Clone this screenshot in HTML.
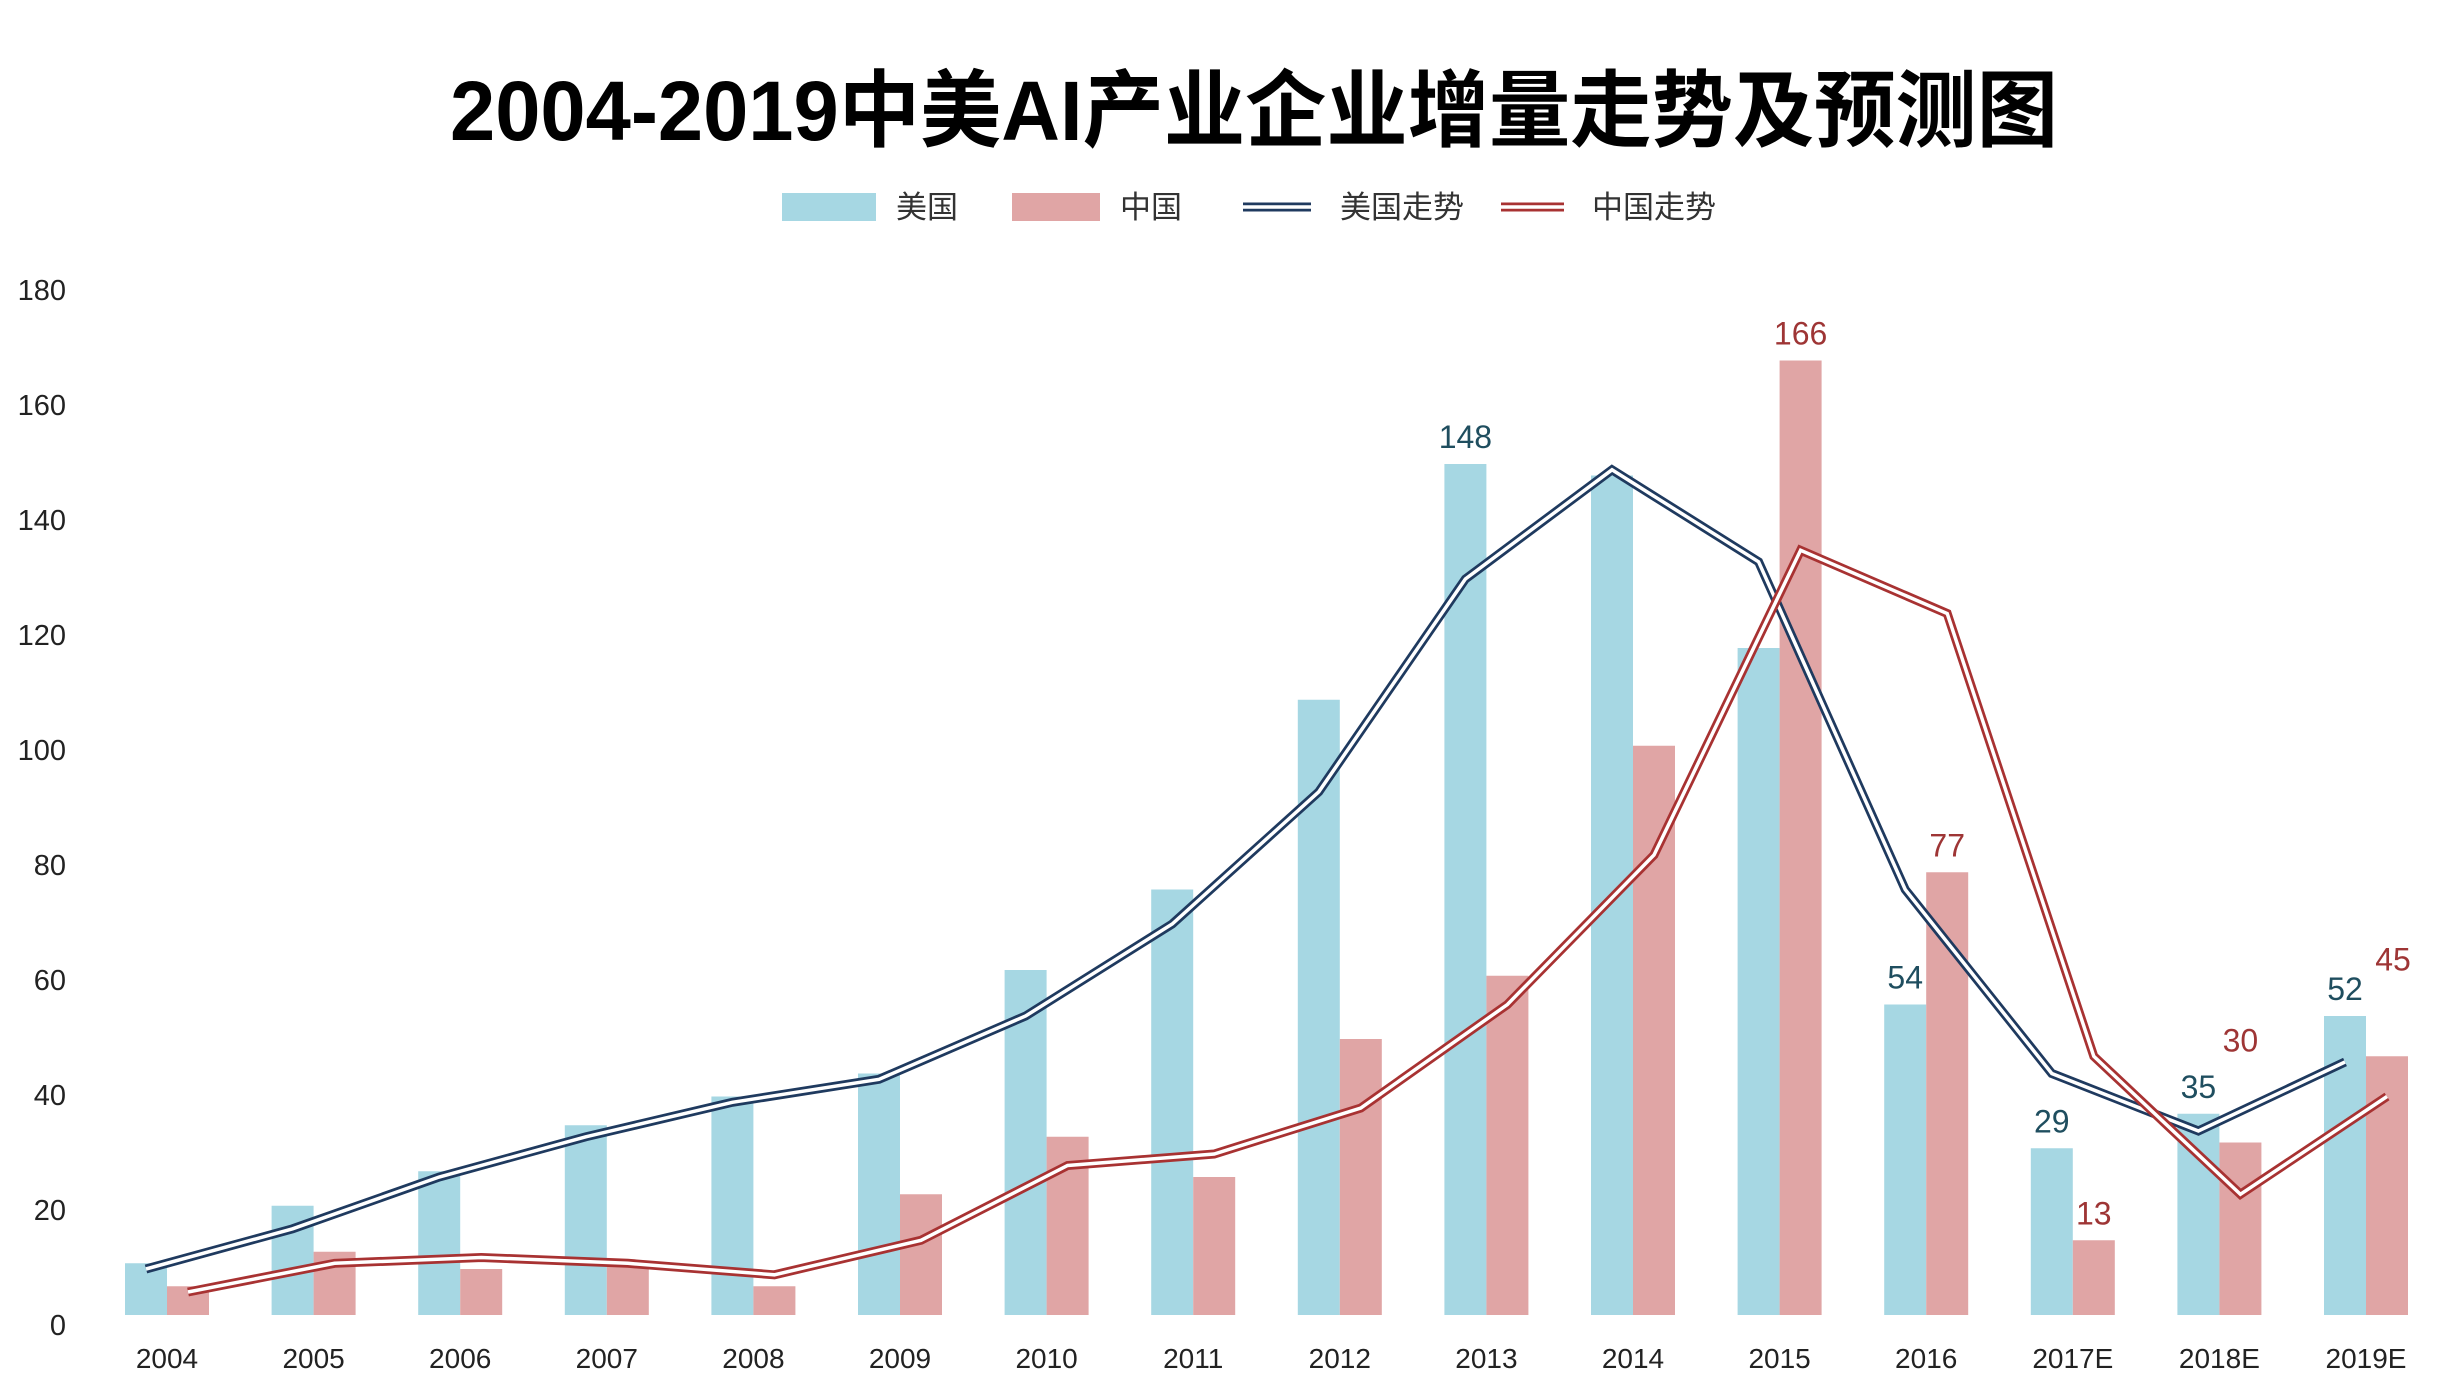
<!DOCTYPE html>
<html><head><meta charset="utf-8">
<style>
html,body{margin:0;padding:0;background:#fff;}
svg{display:block;}
text{font-family:"Liberation Sans","Noto Sans CJK SC",sans-serif;}
</style></head>
<body>
<svg id="chart" width="2440" height="1400" viewBox="0 0 2440 1400" xmlns="http://www.w3.org/2000/svg">
<text x="1254" y="140" text-anchor="middle" font-size="84" font-weight="bold" fill="#000" textLength="1608" lengthAdjust="spacingAndGlyphs">2004-2019中美AI产业企业增量走势及预测图</text>
<g font-size="31" fill="#333">
<rect x="782" y="193" width="94" height="28" fill="#a6d7e3"/>
<text x="896" y="218">美国</text>
<rect x="1012" y="193" width="88" height="28" fill="#e0a5a5"/>
<text x="1120" y="218">中国</text>
<line x1="1243" y1="207" x2="1311" y2="207" stroke="#1f3a5f" stroke-width="9"/>
<line x1="1243" y1="207" x2="1311" y2="207" stroke="#fff" stroke-width="3.5"/>
<text x="1340" y="218">美国走势</text>
<line x1="1501" y1="207" x2="1564" y2="207" stroke="#a83232" stroke-width="9"/>
<line x1="1501" y1="207" x2="1564" y2="207" stroke="#fff" stroke-width="3.5"/>
<text x="1592" y="218">中国走势</text>
</g>
<g id="plot"></g>
</svg>
<script>
const categories = ["2004","2005","2006","2007","2008","2009","2010","2011","2012","2013","2014","2015","2016","2017E","2018E","2019E"];
const usValues = [9,19,25,33,38,42,60,74,107,148,146,116,54,29,35,52];
const cnValues = [5,11,8,9,5,21,31,24,48,59,99,166,77,13,30,45];
const usTrend = [8,15,24,31,37,41,52,68,91,128,147,131,74,42,32,44];
const cnTrend = [4,9,10,9,7,13,26,28,36,54,80,133,122,45,21,38];
const yTicks = [0,20,40,60,80,100,120,140,160,180];
const usLabelIdx = [9,12,13,14,15];
const cnLabelIdx = [11,12,13,14,15];

const NS = "http://www.w3.org/2000/svg";
const plot = document.getElementById('plot');
const x0 = 167, step = 146.6, bw = 42;
const yBase = 1315, perUnit = 5.75;
function xC(i){ return x0 + i*step; }
function yV(v){ return yBase - v*perUnit; }
function mk(tag, attrs){ const e = document.createElementNS(NS, tag); for (const k in attrs) e.setAttribute(k, attrs[k]); plot.appendChild(e); return e; }

yTicks.forEach(t => {
  const e = mk('text', {x:66, y:yV(t)+20, 'text-anchor':'end', 'font-size':29, fill:'#222'});
  e.textContent = t;
  
  
});
categories.forEach((c,i) => {
  const e = mk('text', {x:xC(i), y:1368, 'text-anchor':'middle', 'font-size':28, fill:'#222'});
  e.textContent = c;
  
  
});
usValues.forEach((v,i) => {
  const r = mk('rect', {x:xC(i)-bw, y:yV(v), width:bw, height:v*perUnit, fill:'#a6d7e3'});
  
  
});
cnValues.forEach((v,i) => {
  const r = mk('rect', {x:xC(i), y:yV(v), width:bw, height:v*perUnit, fill:'#e0a5a5'});
  
  
});
function drawLine(vals, off, color, name){
  const pts = vals.map((v,i) => (xC(i)+off).toFixed(1)+','+yV(v).toFixed(1)).join(' ');
  const a = mk('polyline', {points:pts, fill:'none', stroke:color, 'stroke-width':9, 'stroke-linejoin':'miter'});
  
  
  const b = mk('polyline', {points:pts, fill:'none', stroke:'#fff', 'stroke-width':3.5, 'stroke-linejoin':'miter'});
  
  
}
drawLine(usTrend, -bw/2, '#1f3a5f', 'line-us-trend');
drawLine(cnTrend, bw/2, '#a83232', 'line-cn-trend');

const cnExtra = {14:[0,75], 15:[6,70]};
usLabelIdx.forEach(i => {
  const e = mk('text', {x:xC(i)-bw/2, y:yV(usValues[i])-16, 'text-anchor':'middle', 'font-size':32, fill:'#1f4e5f'});
  e.textContent = usValues[i];
  
  
});
cnLabelIdx.forEach(i => {
  const ex = cnExtra[i] || [0,0];
  const e = mk('text', {x:xC(i)+bw/2+ex[0], y:yV(cnValues[i])-16-ex[1], 'text-anchor':'middle', 'font-size':32, fill:'#9e3535'});
  e.textContent = cnValues[i];
  
  
});
</script>
</body></html>
